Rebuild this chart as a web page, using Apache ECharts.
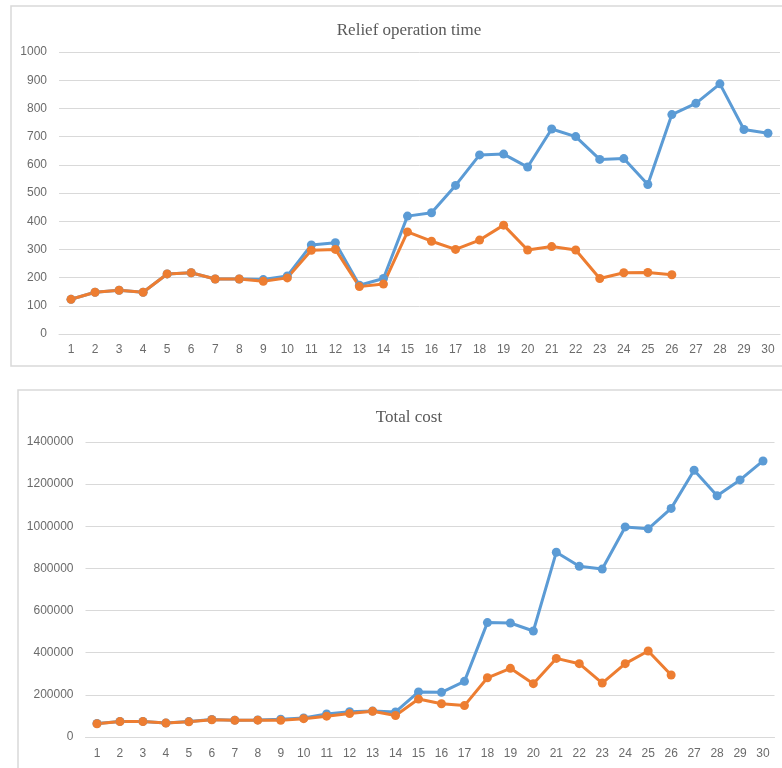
<!DOCTYPE html>
<html>
<head>
<meta charset="utf-8">
<title>Relief operation time / Total cost</title>
<script src="https://cdn.jsdelivr.net/npm/echarts@6/dist/echarts.min.js"></script>
<style>
  html, body { margin: 0; padding: 0; background: #fff; }
  #chart { width: 782px; height: 768px; }
</style>
</head>
<body>
<div id="chart"></div>
<script>
// categories 1..30
const categories = ['1','2','3','4','5','6','7','8','9','10','11','12','13','14','15',
  '16','17','18','19','20','21','22','23','24','25','26','27','28','29','30'];

// top chart: relief operation time
const timeTicks = [0, 100, 200, 300, 400, 500, 600, 700, 800, 900, 1000];
const timeBlue = [123, 148, 155, 148, 213, 217, 195, 195, 193, 206, 316, 324, 173, 197, 418,
  430, 527, 635, 638, 592, 727, 700, 619, 622, 530, 778, 818, 887, 725, 712];
const timeOrange = [123, 148, 155, 148, 213, 217, 195, 195, 187, 199, 297, 300, 168, 177, 362,
  329, 300, 333, 386, 298, 310, 298, 197, 217, 218, 210, null, null, null, null];

// bottom chart: total cost
const costTicks = [0, 200000, 400000, 600000, 800000, 1000000, 1200000, 1400000];
const costBlue = [64000, 74000, 74000, 67000, 73000, 83000, 80000, 81000, 84000, 90000, 109000, 120000, 123000, 119000, 214000,
  212000, 264000, 543000, 541000, 503000, 877000, 810000, 797000, 997000, 988000, 1085000, 1266000, 1145000, 1220000, 1310000];
const costOrange = [63000, 73000, 73000, 66000, 72000, 82000, 79000, 80000, 79000, 87000, 99000, 111000, 122000, 102000, 180000,
  158000, 149000, 281000, 326000, 253000, 373000, 348000, 256000, 348000, 408000, 294000, null, null, null, null];

const BLUE = '#5b9bd5';
const ORANGE = '#ed7d31';
const GRID_LINE = '#d9d9d9';
const LABEL = '#6b6b6b';

const chart = echarts.init(document.getElementById('chart'));

function xAxis(gridIndex, margin) {
  return {
    type: 'category',
    gridIndex: gridIndex,
    data: categories,
    boundaryGap: true,
    axisLine: { show: true, lineStyle: { color: GRID_LINE, width: 1 } },
    axisTick: { show: false },
    axisLabel: { color: LABEL, fontSize: 12, fontFamily: 'Liberation Sans', margin: margin, interval: 0 }
  };
}

function yAxis(gridIndex, ticks) {
  return {
    type: 'value',
    gridIndex: gridIndex,
    min: ticks[0],
    max: ticks[ticks.length - 1],
    interval: ticks[1] - ticks[0],
    axisLine: { show: false },
    axisTick: { show: false },
    splitLine: { lineStyle: { color: GRID_LINE, width: 1 } },
    axisLabel: {
      color: LABEL, fontSize: 12, fontFamily: 'Liberation Sans', margin: 12,
      formatter: function (v) { return String(v); }
    }
  };
}

function line(name, data, color, idx) {
  return {
    name: name,
    type: 'line',
    xAxisIndex: idx,
    yAxisIndex: idx,
    data: data,
    symbol: 'circle',
    symbolSize: 9,
    lineStyle: { color: color, width: 3 },
    itemStyle: { color: color },
    connectNulls: false
  };
}

const option = {
  animation: false,
  backgroundColor: '#fff',
  title: [
    {
      text: 'Relief operation time',
      left: 404, top: 17, textAlign: 'center',
      textStyle: { fontFamily: 'Liberation Serif', fontSize: 17, fontWeight: 'normal', color: '#595959' }
    },
    {
      text: 'Total cost',
      left: 404, top: 404, textAlign: 'center',
      textStyle: { fontFamily: 'Liberation Serif', fontSize: 17, fontWeight: 'normal', color: '#595959' }
    }
  ],
  graphic: [
    { type: 'rect', shape: { x: 11, y: 6, width: 800, height: 360 }, style: { fill: 'none', stroke: GRID_LINE, lineWidth: 1.5 }, z: -1 },
    { type: 'rect', shape: { x: 18, y: 390, width: 800, height: 420 }, style: { fill: 'none', stroke: GRID_LINE, lineWidth: 1.5 }, z: -1 }
  ],
  grid: [
    { left: 59, right: 2, top: 52, bottom: 434 },
    { left: 85.5, right: 7.5, top: 442, bottom: 31 }
  ],
  xAxis: [xAxis(0, 10), xAxis(1, 11)],
  yAxis: [yAxis(0, timeTicks), yAxis(1, costTicks)],
  series: [
    line('time 1', timeBlue, BLUE, 0),
    line('time 2', timeOrange, ORANGE, 0),
    line('cost 1', costBlue, BLUE, 1),
    line('cost 2', costOrange, ORANGE, 1)
  ]
};

chart.setOption(option);
</script>
</body>
</html>
